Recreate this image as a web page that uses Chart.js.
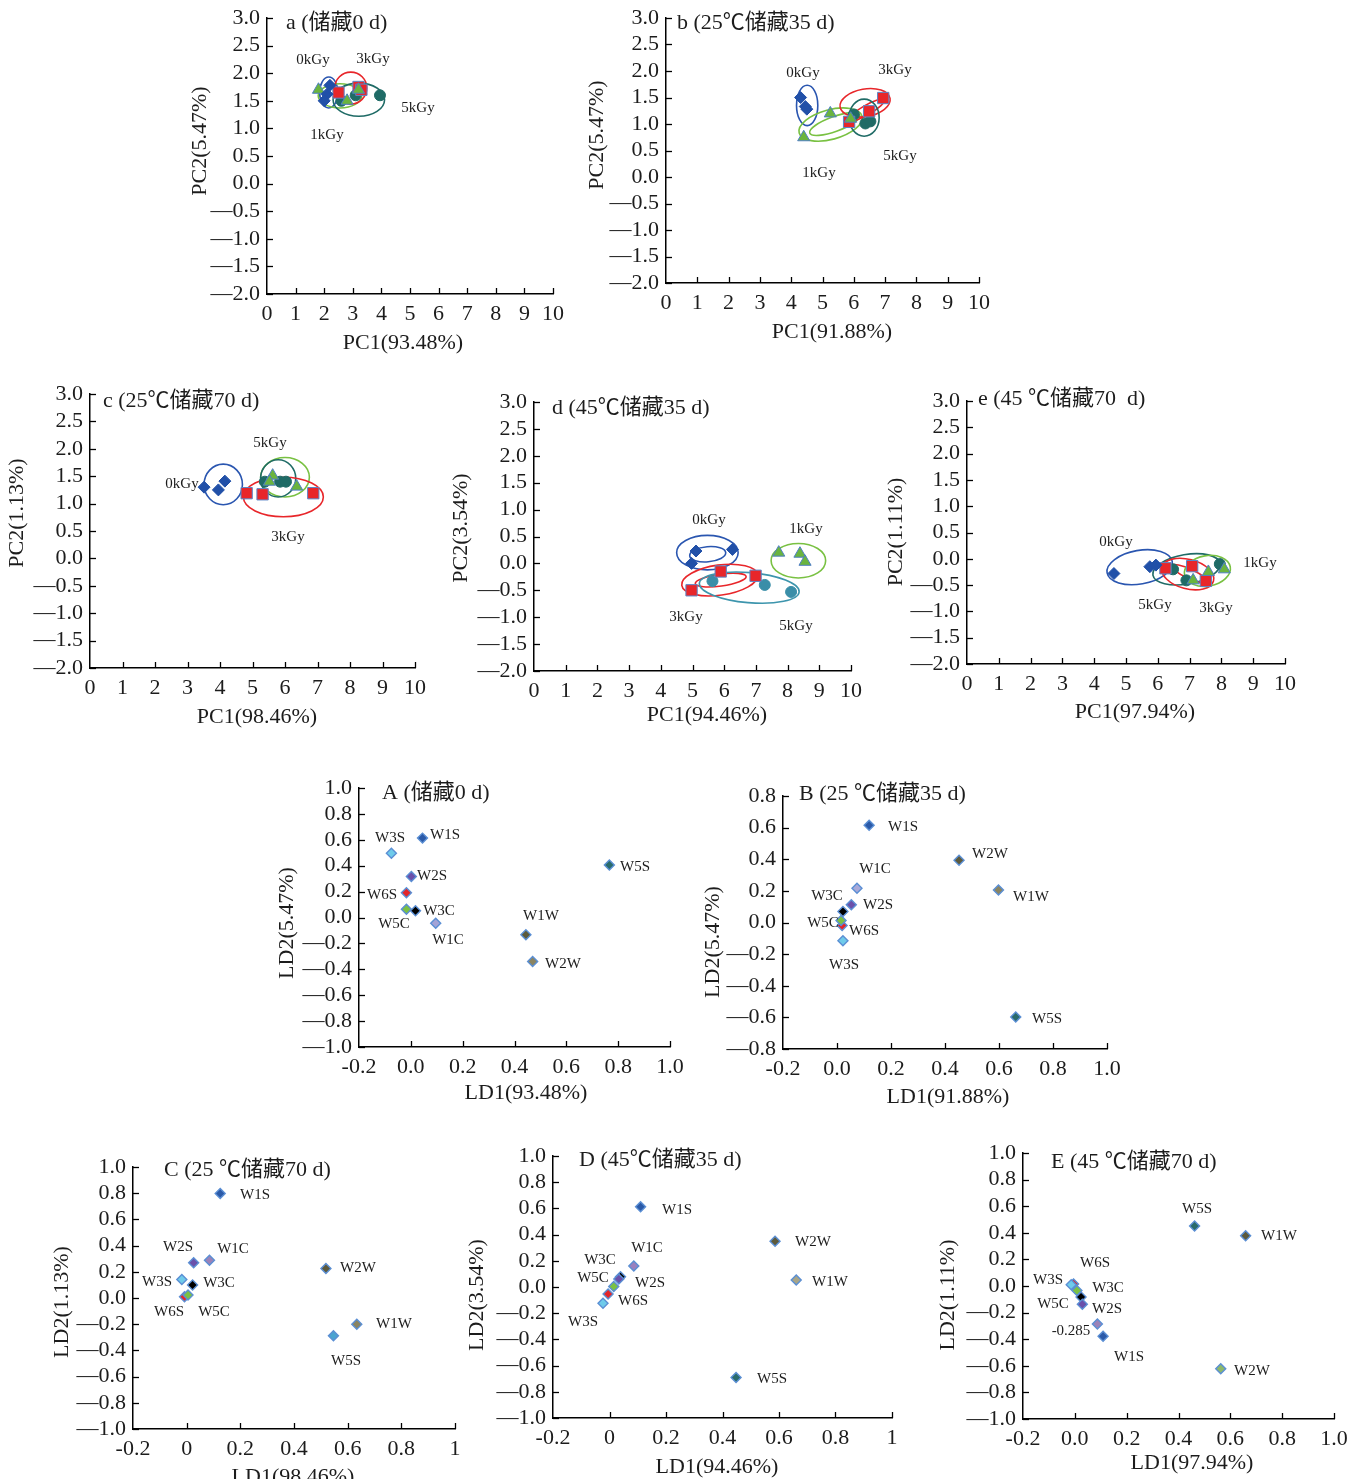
<!DOCTYPE html>
<html>
<head>
<meta charset="utf-8">
<title>PCA / LDA 储藏</title>
<script src="https://cdn.jsdelivr.net/npm/chart.js@4.4.1/dist/chart.umd.min.js"></script>
<style>
  html, body { margin: 0; padding: 0; background: #fff; }
  #page { position: relative; width: 1361px; height: 1479px; overflow: hidden; background: #fff; }
  #page canvas { position: absolute; }
</style>
</head>
<body>
<div id="page"></div>
<script>
// ---------------- PCA data: [PC1, PC2] per irradiation dose ----------------
const pcaGroups = ['0kGy', '1kGy', '3kGy', '5kGy'];

// a – 储藏0 d
const a_0kGy = [[2.2, 1.78], [2.1, 1.62], [2.0, 1.5]];
const a_1kGy = [[1.8, 1.7], [2.8, 1.5], [3.2, 1.7]];
const a_3kGy = [[2.5, 1.65], [3.2, 1.75], [3.3, 1.7]];
const a_5kGy = [[2.6, 1.5], [3.1, 1.6], [3.95, 1.6]];
// confidence ellipses: [group, centre PC1, centre PC2, half-width, half-height, tilt°]
const a_ellipses = [
  ['0kGy', 2.16, 1.65, 0.32, 0.28, 0],
  ['1kGy', 2.55, 1.59, 0.76, 0.22, 0],
  ['3kGy', 2.93, 1.73, 0.56, 0.29, 0],
  ['5kGy', 3.21, 1.52, 0.90, 0.30, 0]
];

// b – 25℃储藏35 d
const b_0kGy = [[4.3, 1.5], [4.45, 1.33], [4.5, 1.28]];
const b_1kGy = [[5.25, 1.2], [4.4, 0.75], [5.9, 1.1]];
const b_3kGy = [[6.94, 1.49], [6.49, 1.24], [5.85, 1.04]];
const b_5kGy = [[6.0, 1.18], [6.37, 1.01], [6.53, 1.05]];
const b_ellipses = [
  ['0kGy', 4.51, 1.35, 0.34, 0.38, 0],
  ['1kGy', 5.26, 0.99, 1.04, 0.28, -15],
  ['1kGy', 5.39, 1.00, 0.85, 0.14, -20],
  ['3kGy', 6.36, 1.40, 0.81, 0.26, -10],
  ['3kGy', 6.40, 1.26, 0.66, 0.09, -30],
  ['5kGy', 6.33, 1.12, 0.48, 0.35, 0]
];

// c – 25℃储藏70 d
const c_0kGy = [[3.51, 1.30], [3.95, 1.25], [4.15, 1.41]];
const c_1kGy = [[5.62, 1.51], [5.52, 1.40], [6.36, 1.31]];
const c_3kGy = [[4.82, 1.19], [5.31, 1.17], [6.87, 1.19]];
const c_5kGy = [[5.38, 1.40], [5.85, 1.40], [6.03, 1.40]];
const c_ellipses = [
  ['0kGy', 4.10, 1.35, 0.59, 0.37, 0],
  ['1kGy', 6.00, 1.48, 0.75, 0.36, 0],
  ['5kGy', 5.79, 1.46, 0.54, 0.34, 0],
  ['3kGy', 5.95, 1.12, 1.23, 0.36, 0]
];

// d – 45℃储藏35 d
const d_0kGy = [[5.11, 0.23], [4.97, 0.0], [6.26, 0.26]];
const d_1kGy = [[7.72, 0.20], [8.39, 0.18], [8.55, 0.03]];
const d_3kGy = [[4.97, -0.50], [5.89, -0.15], [6.99, -0.23]];
const d_5kGy = [[5.63, -0.33], [7.28, -0.40], [8.11, -0.53]];
const d_ellipses = [
  ['0kGy', 5.47, 0.20, 0.97, 0.32, 0],
  ['0kGy', 5.48, 0.17, 0.57, 0.14, -5],
  ['1kGy', 8.34, 0.05, 0.86, 0.32, 0],
  ['3kGy', 5.86, -0.31, 1.21, 0.28, -8],
  ['3kGy', 5.89, -0.31, 0.81, 0.11, -8],
  ['5kGy', 6.79, -0.45, 1.58, 0.28, 5]
];

// e – 45℃储藏70 d
const e_0kGy = [[4.62, -0.28], [5.75, -0.15], [5.94, -0.12]];
const e_1kGy = [[7.59, -0.25], [8.09, -0.20], [7.11, -0.41]];
const e_3kGy = [[6.24, -0.18], [7.08, -0.14], [7.51, -0.42]];
const e_5kGy = [[6.48, -0.20], [6.90, -0.41], [7.95, -0.10]];
const e_ellipses = [
  ['0kGy', 5.43, -0.16, 1.04, 0.32, -10],
  ['5kGy', 6.90, -0.20, 1.07, 0.28, -10],
  ['3kGy', 6.94, -0.29, 0.84, 0.28, 15],
  ['3kGy', 7.01, -0.29, 0.63, 0.09, 25],
  ['1kGy', 7.56, -0.23, 0.73, 0.29, -10]
];

// ---------------- LDA data: sensor loadings ----------------
const ldaSensors = ['W6S', 'W5C', 'W3S', 'W3C', 'W2S', 'W1C', 'W1S', 'W1W', 'W2W', 'W5S'];

const A_LD1 = [-0.017, -0.017, -0.075, 0.018, 0.002, 0.096, 0.045, 0.444, 0.470, 0.766];
const A_LD2 = [0.192, 0.063, 0.497, 0.053, 0.316, -0.045, 0.613, -0.133, -0.339, 0.406];

const B_LD1 = [0.019, 0.015, 0.022, 0.022, 0.053, 0.074, 0.119, 0.598, 0.452, 0.662];
const B_LD2 = [-0.019, 0.013, -0.116, 0.069, 0.112, 0.217, 0.615, 0.206, 0.394, -0.598];

const C_LD1 = [-0.008, 0.005, -0.018, 0.022, 0.026, 0.085, 0.125, 0.634, 0.519, 0.547];
const C_LD2 = [0.010, 0.023, 0.142, 0.099, 0.269, 0.289, 0.797, -0.200, 0.226, -0.289];

const D_LD1 = [-0.005, 0.015, -0.023, 0.039, 0.033, 0.086, 0.110, 0.661, 0.586, 0.448];
const D_LD2 = [-0.053, 0.003, -0.124, 0.079, 0.061, 0.160, 0.612, 0.053, 0.350, -0.690];

const E_LD1 = [-0.005, 0.008, -0.014, 0.024, 0.029, 0.087, 0.109, 0.659, 0.563, 0.462];
const E_LD2 = [0.015, -0.033, 0.010, -0.083, -0.138, -0.285, -0.378, 0.378, -0.622, 0.451];

// ---------------- styles ----------------
const FONT = '"Liberation Serif","Noto Sans CJK SC",serif';
const INK = '#1c1c1c';
const TICK_SIZE = 22, TITLE_SIZE = 22, NOTE_SIZE = 15;

const groupStyle = {
  '0kGy': { shape: 'rectRot',  fill: '#2150a8', edge: '#2150a8', r: 6,   line: '#2a56b0' },
  '1kGy': { shape: 'triangle', fill: '#6ab43e', edge: '#4f7fc4', r: 7,   line: '#79c142' },
  '3kGy': { shape: 'rect',     fill: '#e8262a', edge: '#5b86c8', r: 8,   line: '#e8262a' },
  '5kGy': { shape: 'circle',   fill: '#1f6b66', edge: '#1f6b66', r: 5.5, line: '#1f6b66' }
};

const sensorColor = {
  W6S: '#e3262b', W5C: '#7bc144', W3S: '#6fcbea', W3C: '#000000', W2S: '#6a50aa',
  W1C: '#9f8fc8', W1S: '#2b5aa8', W1W: '#5d5a3c', W2W: '#8a8462', W5S: '#2a6b6b'
};

// canvas margin around each plotting area
const M = { l: 100, t: 30, r: 30, b: 80 };
const page = document.getElementById('page');

const clean = v => { const r = Math.round(v * 1000) / 1000; return r === 0 ? 0 : r; };
const fmtY = v => { v = clean(v); return v < 0 ? '\u2014' + Math.abs(v).toFixed(1) : v.toFixed(1); };
const fmtXint = v => String(clean(v));
const fmtXdec = v => { v = clean(v); return v < 0 ? '-' + Math.abs(v).toFixed(1) : v.toFixed(1); };
const fmtXshort = v => { v = clean(v); return v === 0 ? '0' : v === 1 ? '1' : fmtXdec(v); };

function makePanel(cfg) {
  const p = cfg.plot;
  const W = p.r - p.l + M.l + M.r;
  const H = p.b - p.t + M.t + M.b;
  const ox = p.l - M.l, oy = p.t - M.t;
  const cv = document.createElement('canvas');
  cv.width = W; cv.height = H;
  cv.style.left = ox + 'px'; cv.style.top = oy + 'px';
  cv.style.width = W + 'px'; cv.style.height = H + 'px';
  page.appendChild(cv);

  const text = (ctx, s, x, y, size, align, rot) => {
    ctx.save();
    ctx.translate(x - ox, y - oy);
    if (rot) ctx.rotate(rot);
    ctx.font = size + 'px ' + FONT;
    ctx.fillStyle = INK;
    ctx.textAlign = align || 'center';
    ctx.textBaseline = 'middle';
    ctx.fillText(s, 0, 0);
    ctx.restore();
  };

  const overlay = {
    id: 'overlay',
    beforeDatasetsDraw(chart) {
      const ctx = chart.ctx, xs = chart.scales.x, ys = chart.scales.y;
      (cfg.ellipses || []).forEach(([g, cx, cy, rx, ry, ang]) => {
        const px = xs.getPixelForValue(cx), py = ys.getPixelForValue(cy);
        const prx = Math.abs(xs.getPixelForValue(cx + rx) - px);
        const pry = Math.abs(ys.getPixelForValue(cy + ry) - py);
        ctx.save();
        ctx.beginPath();
        ctx.ellipse(px, py, prx, pry, ang * Math.PI / 180, 0, Math.PI * 2);
        ctx.strokeStyle = (cfg.lineOverride && cfg.lineOverride[g]) || groupStyle[g].line;
        ctx.lineWidth = 1.6;
        ctx.stroke();
        ctx.restore();
      });
    },
    afterDraw(chart) {
      const ctx = chart.ctx, xs = chart.scales.x, ys = chart.scales.y, a = chart.chartArea;
      // inward tick marks
      ctx.save();
      ctx.strokeStyle = '#000';
      ctx.lineWidth = 1.3;
      xs.ticks.forEach((t, i) => {
        if (i === 0) return;
        const px = Math.round(xs.getPixelForTick(i)) + 0.5;
        ctx.beginPath(); ctx.moveTo(px, a.bottom); ctx.lineTo(px, a.bottom - 6); ctx.stroke();
      });
      ys.ticks.forEach((t, i) => {
        const py = Math.round(ys.getPixelForTick(i)) + 0.5;
        ctx.beginPath(); ctx.moveTo(a.left, py); ctx.lineTo(a.left + 6, py); ctx.stroke();
      });
      ctx.restore();
      // panel title and axis titles
      text(ctx, cfg.title, cfg.titlePos[0], cfg.titlePos[1], TITLE_SIZE, 'left');
      text(ctx, cfg.xTitle, cfg.xTitlePos[0], cfg.xTitlePos[1], TITLE_SIZE, 'center');
      text(ctx, cfg.yTitle, cfg.yTitlePos[0], cfg.yTitlePos[1], TITLE_SIZE, 'center', -Math.PI / 2);
      // annotations
      (cfg.notes || []).forEach(([s, x, y]) => text(ctx, s, x, y, NOTE_SIZE, 'center'));
    }
  };

  new Chart(cv, {
    type: 'scatter',
    data: { datasets: cfg.datasets },
    options: {
      responsive: false,
      animation: false,
      devicePixelRatio: 1,
      events: [],
      layout: { padding: { left: 0, top: M.t, right: M.r, bottom: 0 } },
      plugins: { legend: { display: false }, tooltip: { enabled: false } },
      scales: {
        x: {
          type: 'linear', position: 'bottom',
          min: cfg.x[0], max: cfg.x[1],
          grid: { display: false, drawTicks: false },
          border: { display: true, color: '#000', width: 1.5 },
          ticks: {
            stepSize: cfg.x[2], autoSkip: false, maxRotation: 0, minRotation: 0,
            padding: 7, color: INK, font: { family: FONT, size: TICK_SIZE }, callback: cfg.fmtX
          },
          afterFit(s) { s.height = M.b; }
        },
        y: {
          type: 'linear', position: 'left',
          min: cfg.y[0], max: cfg.y[1],
          grid: { display: false, drawTicks: false },
          border: { display: true, color: '#000', width: 1.5 },
          ticks: {
            stepSize: cfg.y[2], autoSkip: false, padding: 7, color: INK,
            font: { family: FONT, size: TICK_SIZE }, callback: fmtY
          },
          afterFit(s) { s.width = M.l; }
        }
      }
    },
    plugins: [overlay]
  });
}

// ---------------- PCA panels ----------------
function pcaDatasets(sets, fillOverride) {
  return pcaGroups.map((g, i) => {
    const st = groupStyle[g];
    const fill = (fillOverride && fillOverride[g]) || st.fill;
    return {
      label: g,
      data: sets[i].map(([x, y]) => ({ x, y })),
      pointStyle: st.shape,
      pointRadius: st.r,
      backgroundColor: fill,
      borderColor: st.edge === st.fill ? fill : st.edge,
      borderWidth: 1,
      showLine: false
    };
  });
}

const pcaX = [0, 10, 1], pcaY = [-2, 3, 0.5];

makePanel({
  plot: { l: 267, t: 18, r: 553, b: 294 }, x: pcaX, y: pcaY, fmtX: fmtXint,
  title: 'a (储藏0 d)', titlePos: [286, 23],
  xTitle: 'PC1(93.48%)', xTitlePos: [403, 343],
  yTitle: 'PC2(5.47%)', yTitlePos: [200, 141],
  datasets: pcaDatasets([a_0kGy, a_1kGy, a_3kGy, a_5kGy]),
  ellipses: a_ellipses,
  notes: [['0kGy', 313, 60], ['3kGy', 373, 59], ['5kGy', 418, 108], ['1kGy', 327, 135]]
});

makePanel({
  plot: { l: 666, t: 18, r: 979, b: 283 }, x: pcaX, y: pcaY, fmtX: fmtXint,
  title: 'b (25℃储藏35 d)', titlePos: [677, 23],
  xTitle: 'PC1(91.88%)', xTitlePos: [832, 332],
  yTitle: 'PC2(5.47%)', yTitlePos: [597, 135],
  datasets: pcaDatasets([b_0kGy, b_1kGy, b_3kGy, b_5kGy]),
  ellipses: b_ellipses,
  notes: [['0kGy', 803, 73], ['3kGy', 895, 70], ['5kGy', 900, 156], ['1kGy', 819, 173]]
});

makePanel({
  plot: { l: 90, t: 394, r: 415, b: 668 }, x: pcaX, y: pcaY, fmtX: fmtXint,
  title: 'c (25℃储藏70 d)', titlePos: [103, 401],
  xTitle: 'PC1(98.46%)', xTitlePos: [257, 717],
  yTitle: 'PC2(1.13%)', yTitlePos: [17, 513],
  datasets: pcaDatasets([c_0kGy, c_1kGy, c_3kGy, c_5kGy]),
  ellipses: c_ellipses,
  notes: [['0kGy', 182, 484], ['5kGy', 270, 443], ['3kGy', 288, 537]]
});

makePanel({
  plot: { l: 534, t: 402, r: 851, b: 671 }, x: pcaX, y: pcaY, fmtX: fmtXint,
  title: 'd (45℃储藏35 d)', titlePos: [552, 408],
  xTitle: 'PC1(94.46%)', xTitlePos: [707, 715],
  yTitle: 'PC2(3.54%)', yTitlePos: [461, 528],
  datasets: pcaDatasets([d_0kGy, d_1kGy, d_3kGy, d_5kGy], { '5kGy': '#3a8ea8' }),
  ellipses: d_ellipses, lineOverride: { '5kGy': '#3d95ad' },
  notes: [['0kGy', 709, 520], ['1kGy', 806, 529], ['3kGy', 686, 617], ['5kGy', 796, 626]]
});

makePanel({
  plot: { l: 967, t: 401, r: 1285, b: 664 }, x: pcaX, y: pcaY, fmtX: fmtXint,
  title: 'e (45 ℃储藏70  d)', titlePos: [978, 399],
  xTitle: 'PC1(97.94%)', xTitlePos: [1135, 712],
  yTitle: 'PC2(1.11%)', yTitlePos: [896, 532],
  datasets: pcaDatasets([e_0kGy, e_1kGy, e_3kGy, e_5kGy]),
  ellipses: e_ellipses,
  notes: [['0kGy', 1116, 542], ['1kGy', 1260, 563], ['5kGy', 1155, 605], ['3kGy', 1216, 608]]
});

// ---------------- LDA panels ----------------
function ldaDataset(ld1, ld2, colorOverride) {
  const col = Object.assign({}, sensorColor, colorOverride || {});
  return [{
    label: 'sensors',
    data: ldaSensors.map((s, i) => ({ x: ld1[i], y: ld2[i] })),
    pointStyle: 'rectRot',
    pointRadius: 5,
    backgroundColor: ldaSensors.map(s => col[s]),
    borderColor: '#5b8fd4',
    borderWidth: 1.4,
    showLine: false
  }];
}

function ldaNotes(pos, ld2, valueSensor) {
  return ldaSensors.map((s, i) => {
    const txt = s === valueSensor ? String(ld2[i]) : s;
    return [txt, pos[s][0], pos[s][1]];
  });
}

const ldaX = [-0.2, 1.0, 0.2];

makePanel({
  plot: { l: 359, t: 788, r: 670, b: 1047 }, x: ldaX, y: [-1, 1, 0.2], fmtX: fmtXdec,
  title: 'A (储藏0 d)', titlePos: [382, 793],
  xTitle: 'LD1(93.48%)', xTitlePos: [526, 1093],
  yTitle: 'LD2(5.47%)', yTitlePos: [287, 923],
  datasets: ldaDataset(A_LD1, A_LD2, { W1C: '#a3a3d6' }),
  notes: ldaNotes({
    W3S: [390, 838], W1S: [445, 835], W2S: [432, 876], W6S: [382, 895], W3C: [439, 911],
    W5C: [394, 924], W1C: [448, 940], W1W: [541, 916], W2W: [563, 964], W5S: [635, 867]
  }, A_LD2)
});

makePanel({
  plot: { l: 783, t: 796, r: 1107, b: 1049 }, x: ldaX, y: [-0.8, 0.8, 0.2], fmtX: fmtXdec,
  title: 'B (25 ℃储藏35 d)', titlePos: [799, 794],
  xTitle: 'LD1(91.88%)', xTitlePos: [948, 1097],
  yTitle: 'LD2(5.47%)', yTitlePos: [713, 942],
  datasets: ldaDataset(B_LD1, B_LD2, { W2W: '#5d5a3c', W1W: '#8a8462', W1C: '#a9a9d9' }),
  notes: ldaNotes({
    W1S: [903, 827], W2W: [990, 854], W1C: [875, 869], W1W: [1031, 897], W3C: [827, 896],
    W2S: [878, 905], W5C: [823, 923], W6S: [864, 931], W3S: [844, 965], W5S: [1047, 1019]
  }, B_LD2)
});

makePanel({
  plot: { l: 133, t: 1167, r: 455, b: 1429 }, x: ldaX, y: [-1, 1, 0.2], fmtX: fmtXshort,
  title: 'C (25 ℃储藏70 d)', titlePos: [164, 1170],
  xTitle: 'LD1(98.46%)', xTitlePos: [293, 1477],
  yTitle: 'LD2(1.13%)', yTitlePos: [62, 1302],
  datasets: ldaDataset(C_LD1, C_LD2, { W2W: '#5d5a3c', W1W: '#8a8462', W5S: '#4aa3cf', W1C: '#9a82b8' }),
  notes: ldaNotes({
    W1S: [255, 1195], W2S: [178, 1247], W1C: [233, 1249], W2W: [358, 1268], W3S: [157, 1282],
    W3C: [219, 1283], W6S: [169, 1312], W5C: [214, 1312], W1W: [394, 1324], W5S: [346, 1361]
  }, C_LD2)
});

makePanel({
  plot: { l: 553, t: 1156, r: 892, b: 1418 }, x: ldaX, y: [-1, 1, 0.2], fmtX: fmtXshort,
  title: 'D (45℃储藏35 d)', titlePos: [579, 1160],
  xTitle: 'LD1(94.46%)', xTitlePos: [717, 1467],
  yTitle: 'LD2(3.54%)', yTitlePos: [477, 1295],
  datasets: ldaDataset(D_LD1, D_LD2, { W2W: '#5d5a3c', W1W: '#a8a587', W1C: '#9a80bd' }),
  notes: ldaNotes({
    W1S: [677, 1210], W2W: [813, 1242], W1C: [647, 1248], W1W: [830, 1282], W3C: [600, 1260],
    W2S: [650, 1283], W5C: [593, 1278], W6S: [633, 1301], W3S: [583, 1322], W5S: [772, 1379]
  }, D_LD2)
});

makePanel({
  plot: { l: 1023, t: 1153, r: 1334, b: 1419 }, x: ldaX, y: [-1, 1, 0.2], fmtX: fmtXdec,
  title: 'E (45 ℃储藏70 d)', titlePos: [1051, 1162],
  xTitle: 'LD1(97.94%)', xTitlePos: [1192, 1463],
  yTitle: 'LD2(1.11%)', yTitlePos: [948, 1295],
  datasets: ldaDataset(E_LD1, E_LD2, { W1W: '#5d5a3c', W2W: '#8db86a', W1C: '#9a82b8' }),
  notes: ldaNotes({
    W5S: [1197, 1209], W1W: [1279, 1236], W6S: [1095, 1263], W3S: [1048, 1280], W3C: [1108, 1288],
    W5C: [1053, 1304], W2S: [1107, 1309], W1C: [1071, 1331], W1S: [1129, 1357], W2W: [1252, 1371]
  }, E_LD2, 'W1C')
});
</script>
</body>
</html>
